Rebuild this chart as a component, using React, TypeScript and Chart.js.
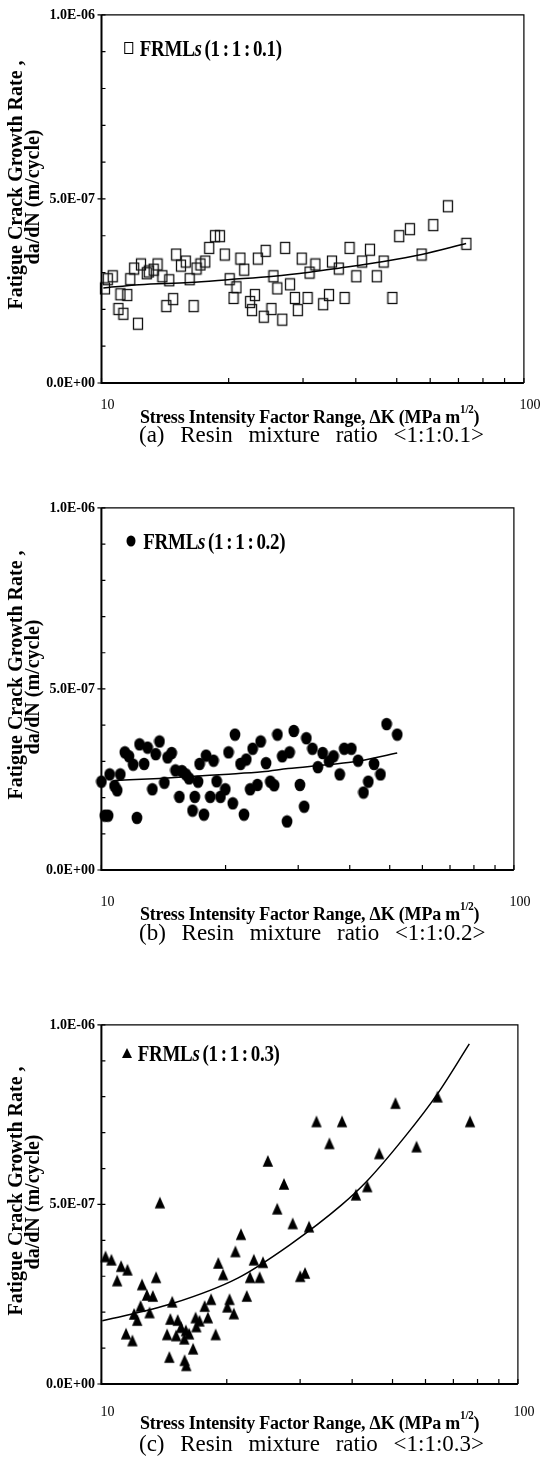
import React, { useEffect, useRef } from 'react';
import { Chart, registerables } from 'chart.js';

Chart.register(...registerables);

// ---------------- shared axis data ----------------
const xTickValues = [10, 20, 30, 40, 50, 60, 70, 80, 90, 100];
const xTickLabels = ['10', '', '', '', '', '', '', '', '', '100'];
const yTickValues = [0, 1e-7, 2e-7, 3e-7, 4e-7, 5e-7, 6e-7, 7e-7, 8e-7, 9e-7, 1e-6];
const yTickLabels = ['0.0E+00', '', '', '', '', '5.0E-07', '', '', '', '', '1.0E-06'];
const yTitleLines = ['Fatigue Crack Growth Rate ,', 'da/dN (m/cycle)'];
const xTitleMain = 'Stress Intensity Factor Range, \u0394K (MPa m';
const xTitleSup = '1/2';
const RATE_UNIT = 1e-7; // rates below are in units of 1e-7 m/cycle

// ---------------- panel (a) 1:1:0.1 ----------------
const dKA = [10.19, 10.35, 10.63, 10.97, 11.09, 11.27, 11.51, 11.70, 11.95, 12.20, 12.40, 12.80, 12.94, 13.29, 13.57, 13.94, 14.24, 14.47, 14.78, 15.02, 15.42, 15.83, 16.17, 16.52, 16.79, 17.15, 17.61, 17.99, 18.57, 19.07, 19.58, 20.11, 20.54, 20.87, 21.32, 21.77, 22.48, 22.72, 23.08, 23.45, 24.22, 24.47, 25.26, 25.53, 26.08, 26.79, 27.21, 27.95, 28.70, 29.16, 29.79, 30.75, 31.08, 32.09, 33.48, 34.56, 35.12, 36.45, 37.63, 38.65, 40.11, 41.41, 43.21, 44.85, 46.55, 48.83, 50.68, 53.72, 57.26, 61.01, 66.08, 73.10];
const rateA = [2.57, 2.82, 2.90, 2.01, 2.41, 1.88, 2.39, 2.82, 3.11, 1.61, 3.22, 2.98, 3.03, 3.08, 3.22, 2.90, 2.09, 2.79, 2.28, 3.49, 3.19, 3.30, 2.82, 2.09, 3.11, 3.22, 3.30, 3.67, 3.99, 3.99, 3.49, 2.82, 2.31, 2.60, 3.38, 3.08, 2.20, 1.98, 2.39, 3.38, 1.80, 3.59, 2.01, 2.90, 2.57, 1.72, 3.67, 2.68, 2.31, 1.98, 3.38, 2.31, 3.00, 3.22, 2.14, 2.39, 3.30, 3.11, 2.31, 3.67, 2.90, 3.30, 3.62, 2.90, 3.30, 2.31, 3.99, 4.18, 3.49, 4.29, 4.80, 3.78];
const fitDKA = [10.10, 12.27, 16.15, 20.14, 25.57, 31.08, 36.45, 46.55, 57.26, 72.98];
const fitRateA = [2.58, 2.67, 2.73, 2.81, 2.90, 3.01, 3.12, 3.30, 3.49, 3.79];
const ratioA = '(1 : 1 : 0.1)';
const captionA = '(a) Resin mixture ratio <1:1:0.1>';

// ---------------- panel (b) 1:1:0.2 ----------------
const dKB = [10.00, 10.19, 10.38, 10.47, 10.76, 10.92, 11.11, 11.40, 11.66, 11.94, 12.19, 12.37, 12.69, 12.94, 13.29, 13.54, 13.83, 14.21, 14.47, 14.80, 15.12, 15.45, 15.68, 16.02, 16.31, 16.63, 16.84, 17.15, 17.30, 17.72, 17.94, 18.36, 18.70, 19.03, 19.44, 19.97, 20.33, 20.82, 21.08, 21.74, 22.16, 22.45, 22.94, 23.26, 23.89, 24.33, 25.07, 25.67, 26.23, 26.71, 27.44, 28.18, 28.59, 29.27, 30.28, 31.01, 31.39, 32.47, 33.48, 34.39, 35.65, 36.54, 37.82, 38.78, 40.36, 41.90, 43.19, 44.36, 45.81, 47.49, 49.13, 52.13];
const rateB = [2.44, 1.50, 1.50, 2.64, 2.32, 2.20, 2.64, 3.25, 3.14, 2.91, 1.44, 3.47, 2.93, 3.38, 2.23, 3.20, 3.55, 2.41, 3.11, 3.23, 2.75, 2.02, 2.73, 2.64, 2.53, 1.64, 2.02, 2.44, 2.93, 1.53, 3.16, 2.02, 3.02, 2.45, 2.02, 2.23, 3.25, 1.84, 3.74, 2.93, 1.53, 3.05, 2.23, 3.35, 2.35, 3.55, 2.95, 2.44, 2.34, 3.74, 3.14, 1.34, 3.25, 3.84, 2.35, 1.75, 3.64, 3.35, 2.84, 3.23, 3.00, 3.14, 2.64, 3.35, 3.35, 3.02, 2.14, 2.44, 2.93, 2.64, 4.03, 3.74];
const fitDKB = [10.76, 13.83, 19.79, 24.55, 28.33, 33.89, 40.57, 52.13];
const fitRateB = [2.47, 2.53, 2.64, 2.71, 2.80, 2.89, 2.98, 3.23];
const ratioB = '(1 : 1 : 0.2)';
const captionB = '(b) Resin mixture ratio <1:1:0.2>';

// ---------------- panel (c) 1:1:0.3 ----------------
const dKC = [10.23, 10.57, 10.91, 11.15, 11.55, 11.46, 11.87, 11.98, 12.19, 12.42, 12.52, 12.86, 13.05, 13.29, 13.53, 13.82, 14.38, 14.56, 14.64, 14.79, 15.12, 15.25, 15.53, 15.81, 15.84, 15.95, 15.99, 16.24, 16.60, 16.83, 16.90, 17.20, 17.70, 18.02, 18.34, 18.81, 19.08, 19.60, 20.06, 20.31, 20.80, 20.98, 21.63, 22.34, 22.74, 23.23, 23.99, 24.43, 25.10, 26.43, 27.44, 28.80, 30.02, 30.83, 31.51, 32.84, 35.27, 37.82, 40.84, 43.49, 46.46, 50.82, 57.10, 64.12, 76.74];
const rateC = [3.55, 3.46, 2.88, 3.28, 3.18, 1.40, 1.21, 1.95, 1.78, 2.17, 2.77, 2.48, 1.99, 2.45, 2.97, 5.05, 1.38, 0.75, 1.81, 2.29, 1.35, 1.78, 1.58, 1.26, 0.66, 1.49, 0.52, 1.40, 0.98, 1.85, 1.60, 1.76, 2.17, 1.85, 2.36, 1.38, 3.37, 3.05, 2.15, 2.36, 1.96, 3.69, 4.17, 2.45, 2.97, 3.46, 2.97, 3.39, 6.21, 4.88, 5.57, 4.47, 3.00, 3.09, 4.38, 7.31, 6.70, 7.31, 5.27, 5.50, 6.42, 7.82, 6.61, 8.00, 7.31];
const fitDKC = [10.05, 14.79, 21.25, 28.29, 37.68, 43.49, 53.92, 64.12, 76.45];
const fitRateC = [1.76, 2.24, 2.95, 3.87, 4.98, 5.66, 6.93, 8.08, 9.47];
const ratioC = '(1 : 1 : 0.3)';
const captionC = '(c) Resin mixture ratio <1:1:0.3>';

// ---------------- layout (page pixels) ----------------
const PAGE_W = 548;
const SERIF = "'Liberation Serif', 'Times New Roman', serif";
const X_AXIS_H = 40;

const layoutA = { canvasTop: 0, plotTop: 10, plotBottom: 383, plotLeft: 101.5, plotRight: 535, tickGap: 22, titleY: 416, captionY: 434, legendX: 128.8, legendY: 48, legendTextX: 139.8 };
const layoutB = { canvasTop: 493, plotTop: 503.3, plotBottom: 870, plotLeft: 101.4, plotRight: 529.5, tickGap: 32, titleY: 913, captionY: 932, legendX: 131, legendY: 540.5, legendTextX: 143.3 };
const layoutC = { canvasTop: 1010, plotTop: 1020.7, plotBottom: 1384, plotLeft: 101.4, plotRight: 530, tickGap: 28, titleY: 1422, captionY: 1443, legendX: 126.7, legendY: 1053, legendTextX: 137.7 };

function makeMarker(kind: string): HTMLCanvasElement {
  const c = document.createElement('canvas');
  c.width = 12;
  c.height = 14;
  const g = c.getContext('2d') as CanvasRenderingContext2D;
  g.fillStyle = '#000';
  g.strokeStyle = '#111';
  if (kind === 'square') {
    g.lineWidth = 1.3;
    g.strokeRect(1.5, 1.5, 9, 11);
  } else if (kind === 'circle') {
    g.beginPath();
    g.ellipse(6, 7, 5.4, 6.3, 0, 0, Math.PI * 2);
    g.fill();
  } else {
    g.beginPath();
    g.moveTo(6, 1);
    g.lineTo(11.2, 12.8);
    g.lineTo(0.8, 12.8);
    g.closePath();
    g.fill();
  }
  return c;
}

const framePlugin = {
  id: 'frameTicks',
  afterDraw(chart: any) {
    const { ctx, chartArea } = chart;
    const { left, top, right, bottom } = chartArea;
    const xs = chart.scales.x;
    const ys = chart.scales.y;
    ctx.save();
    ctx.strokeStyle = '#000';
    ctx.lineWidth = 1.2;
    ctx.beginPath();
    ctx.moveTo(left, top);
    ctx.lineTo(right, top);
    ctx.lineTo(right, bottom);
    ctx.stroke();
    ctx.lineWidth = 2;
    ctx.beginPath();
    ctx.moveTo(left, top);
    ctx.lineTo(left, bottom);
    ctx.lineTo(right, bottom);
    ctx.stroke();
    ctx.lineWidth = 1.2;
    ctx.beginPath();
    ys.ticks.forEach((t: any, i: number) => {
      const py = ys.getPixelForValue(t.value);
      const major = yTickLabels[i] !== '';
      ctx.moveTo(left - (major ? 4 : 0), py);
      ctx.lineTo(left + 4, py);
    });
    xs.ticks.forEach((t: any) => {
      const px = xs.getPixelForValue(t.value);
      ctx.moveTo(px, bottom);
      ctx.lineTo(px, bottom - 5);
    });
    ctx.stroke();
    ctx.restore();
  },
};

function LegendMarker({ kind }: { kind: string }) {
  if (kind === 'square') {
    return <span style={{ display: 'block', width: 7.5, height: 10, border: '1.3px solid #000' }} />;
  }
  if (kind === 'circle') {
    return <span style={{ display: 'block', width: 9, height: 11, borderRadius: '50%', background: '#000' }} />;
  }
  return <span style={{ display: 'block', width: 0, height: 0, borderLeft: '5px solid transparent', borderRight: '5px solid transparent', borderBottom: '10px solid #000' }} />;
}

function Panel(props: any) {
  const { kind, dK, rate, fitDK, fitRate, ratio, caption, L } = props;
  const ref = useRef<HTMLCanvasElement>(null);
  const H = Math.ceil(L.plotBottom - L.canvasTop + X_AXIS_H);
  const plotMid = (L.plotTop + L.plotBottom) / 2;

  useEffect(() => {
    const canvas = ref.current as HTMLCanvasElement;
    const plotLeft = L.plotLeft;
    const bottomPad = H - (L.plotBottom - L.canvasTop) - X_AXIS_H;
    const chart = new Chart(canvas, {
      type: 'scatter',
      data: {
        datasets: [
          {
            type: 'line',
            label: 'fit',
            data: fitDK.map((k: number, i: number) => ({ x: k, y: fitRate[i] * RATE_UNIT })),
            borderColor: '#000',
            borderWidth: 1.5,
            pointRadius: 0,
            fill: false,
            cubicInterpolationMode: 'monotone',
            order: 1,
          } as any,
          {
            type: 'scatter',
            label: 'FRMLs ' + ratio,
            data: dK.map((k: number, i: number) => ({ x: k, y: rate[i] * RATE_UNIT })),
            pointStyle: makeMarker(kind),
            pointRadius: 6,
            clip: false,
            order: 2,
          } as any,
        ],
      },
      options: {
        animation: false,
        responsive: false,
        maintainAspectRatio: false,
        devicePixelRatio: 1,
        events: [],
        layout: {
          padding: { left: 0, top: L.plotTop - L.canvasTop, right: PAGE_W - L.plotRight, bottom: bottomPad },
        },
        plugins: { legend: { display: false }, tooltip: { enabled: false }, title: { display: false } },
        scales: {
          x: {
            type: 'logarithmic',
            position: 'bottom',
            min: 10,
            max: 100,
            grid: { display: false, drawTicks: false },
            border: { display: false },
            afterBuildTicks: (s: any) => {
              s.ticks = xTickValues.map((value) => ({ value }));
            },
            afterFit: (s: any) => {
              s.height = X_AXIS_H;
            },
            ticks: {
              autoSkip: false,
              maxRotation: 0,
              minRotation: 0,
              padding: L.tickGap - 8.4,
              labelOffset: 6,
              color: '#000',
              font: { family: SERIF, size: 14, weight: 'normal' },
              callback: (_v: any, i: number) => xTickLabels[i],
            },
          },
          y: {
            type: 'linear',
            position: 'left',
            min: 0,
            max: 1e-6,
            grid: { display: false, drawTicks: false },
            border: { display: false },
            afterBuildTicks: (s: any) => {
              s.ticks = yTickValues.map((value) => ({ value }));
            },
            afterFit: (s: any) => {
              s.width = plotLeft;
            },
            ticks: {
              autoSkip: false,
              padding: 6.5,
              color: '#000',
              font: { family: SERIF, size: 14, weight: 'bold' },
              callback: (_v: any, i: number) => yTickLabels[i],
            },
            title: { display: false },
          },
        },
      } as any,
      plugins: [framePlugin],
    });
    return () => chart.destroy();
  }, []);

  const yTitleStyle = (cx: number, cy: number): any => ({
    position: 'absolute',
    left: cx,
    top: cy,
    transform: 'translate(-50%, -50%) rotate(-90deg)',
    fontFamily: SERIF,
    fontWeight: 'bold',
    fontSize: 20,
    lineHeight: 1,
    whiteSpace: 'nowrap',
    color: '#000',
  });

  return (
    <>
      <canvas
        ref={ref}
        width={PAGE_W}
        height={H}
        style={{ position: 'absolute', left: 0, top: L.canvasTop, width: PAGE_W, height: H, display: 'block' }}
      />
      <div style={yTitleStyle(14.5, plotMid - 11.5)}>{yTitleLines[0]}</div>
      <div style={yTitleStyle(31.5, plotMid)}>{yTitleLines[1]}</div>
      <div style={{ position: 'absolute', left: L.legendX, top: L.legendY, transform: 'translate(-50%, -50%)' }}>
        <LegendMarker kind={kind} />
      </div>
      <div
        style={{
          position: 'absolute',
          left: L.legendTextX,
          top: L.legendY,
          transform: 'translateY(-50%) scaleY(1.25)',
          fontFamily: SERIF,
          fontWeight: 'bold',
          fontSize: 19,
          lineHeight: 1,
          whiteSpace: 'nowrap',
          wordSpacing: -1.5,
          letterSpacing: -0.3,
          color: '#000',
        }}
      >
        FRML<i>s</i> {ratio}
      </div>
      <div
        style={{
          position: 'absolute',
          left: 140,
          top: L.titleY,
          transform: 'translateY(-50%) scaleY(1.1)',
          fontFamily: SERIF,
          fontWeight: 'bold',
          fontSize: 18,
          lineHeight: 1,
          whiteSpace: 'nowrap',
          letterSpacing: -0.2,
          color: '#000',
        }}
      >
        {xTitleMain}
        <sup style={{ fontSize: 11, verticalAlign: 'top', position: 'relative', top: -3 }}>{xTitleSup}</sup>)
      </div>
      <div
        style={{
          position: 'absolute',
          left: 139,
          top: L.captionY,
          transform: 'translateY(-50%)',
          fontFamily: SERIF,
          fontSize: 23,
          lineHeight: 1,
          whiteSpace: 'nowrap',
          wordSpacing: 10,
          color: '#000',
        }}
      >
        {caption}
      </div>
    </>
  );
}

export default function App() {
  return (
    <div style={{ position: 'absolute', left: 0, top: 0, width: PAGE_W, height: 1469, background: '#fff', overflow: 'hidden' }}>
      <Panel kind="square" dK={dKA} rate={rateA} fitDK={fitDKA} fitRate={fitRateA} ratio={ratioA} caption={captionA} L={layoutA} />
      <Panel kind="circle" dK={dKB} rate={rateB} fitDK={fitDKB} fitRate={fitRateB} ratio={ratioB} caption={captionB} L={layoutB} />
      <Panel kind="triangle" dK={dKC} rate={rateC} fitDK={fitDKC} fitRate={fitRateC} ratio={ratioC} caption={captionC} L={layoutC} />
    </div>
  );
}
